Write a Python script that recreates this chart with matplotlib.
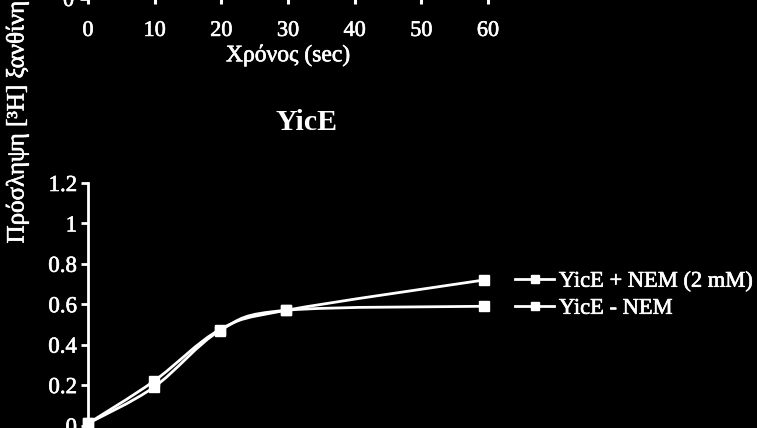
import matplotlib
matplotlib.use('Agg')
import matplotlib.pyplot as plt
import matplotlib.patheffects as pe
from matplotlib.path import Path
from matplotlib.patches import PathPatch

# Data
time_sec = [0, 10, 20, 30, 60]
yice_nem = [0.01, 0.22, 0.475, 0.57, 0.72]
yice_no_nem = [0.01, 0.19, 0.47, 0.57, 0.59]
labels = ['YicE + NEM (2 mM)', 'YicE - NEM']
top_xticks = [0, 10, 20, 30, 40, 50, 60]
yticks = [0, 0.2, 0.4, 0.6, 0.8, 1, 1.2]
ytick_labels = ['0', '0.2', '0.4', '0.6', '0.8', '1', '1.2']

plt.rcParams['font.family'] = ['Liberation Serif', 'DejaVu Serif']
plt.rcParams['text.color'] = 'white'
plt.rcParams['axes.edgecolor'] = 'white'
plt.rcParams['xtick.color'] = 'white'
plt.rcParams['ytick.color'] = 'white'

# the original's white-on-black text is a little heavier than plain regular
heavy = [pe.withStroke(linewidth=0.45, foreground='white')]


def smooth_path(xs, ys, t=0.5):
    # Catmull-Rom style curve through the points, like the spreadsheet smoothing
    verts = [(xs[0], ys[0])]
    codes = [Path.MOVETO]
    n = len(xs)
    for i in range(n - 1):
        x0, y0 = (xs[i - 1], ys[i - 1]) if i > 0 else (xs[i], ys[i])
        x1, y1 = xs[i], ys[i]
        x2, y2 = xs[i + 1], ys[i + 1]
        x3, y3 = (xs[i + 2], ys[i + 2]) if i + 2 < n else (x2, y2)
        c1 = (x1 + (x2 - x0) * t / 3, y1 + (y2 - y0) * t / 3)
        c2 = (x2 - (x3 - x1) * t / 3, y2 - (y3 - y1) * t / 3)
        verts += [c1, c2, (x2, y2)]
        codes += [Path.CURVE4] * 3
    return Path(verts, codes)


fig = plt.figure(figsize=(7.57, 4.28), dpi=100, facecolor='black')

# remains of the chart above: only its x axis labels show
ax_top = fig.add_axes([88 / 757, 429 / 428, 400 / 757, 0.5])
ax_top.set_facecolor('black')
ax_top.set_xlim(0, 60)
ax_top.set_ylim(0, 1)
ax_top.set_xticks(top_xticks)
ax_top.set_yticks([0])
for s in ['top', 'right', 'bottom', 'left']:
    ax_top.spines[s].set_visible(False)
ax_top.tick_params(axis='x', length=3.5, width=2.2, pad=13, labelsize=16)
ax_top.tick_params(axis='y', length=6, width=2, pad=4, labelsize=16)
ax_top.set_xlabel('Χρόνος (sec)', fontsize=17, color='white', labelpad=3)
for t in ax_top.get_xticklabels() + ax_top.get_yticklabels() + [ax_top.xaxis.label]:
    t.set_path_effects(heavy)

# YicE chart
ax = fig.add_axes([88 / 757, 2.5 / 428, 396 / 757, 242.5 / 428])
ax.set_facecolor('black')
ax.set_xlim(0, 60)
ax.set_ylim(0, 1.2)
ax.set_yticks(yticks)
ax.set_yticklabels(ytick_labels)
ax.set_xticks([])
ax.spines['top'].set_visible(False)
ax.spines['right'].set_visible(False)
ax.spines['bottom'].set_visible(False)
ax.spines['left'].set_linewidth(2)
ax.tick_params(axis='y', length=5, width=2, pad=3, labelsize=16.5)
for t in ax.get_yticklabels():
    t.set_path_effects(heavy)

for ys, lab in zip([yice_nem, yice_no_nem], labels):
    ax.add_patch(PathPatch(smooth_path(time_sec, ys), facecolor='none',
                           edgecolor='white', lw=2, clip_on=False))
    ax.plot(time_sec, ys, linestyle='none', marker='s', ms=7,
            color='white', clip_on=False, label=lab)

legend_handles = [plt.Line2D([], [], color='white', lw=2, marker='s', ms=6)
                  for _ in labels]
leg = fig.legend(legend_handles, labels, loc='upper left',
                 bbox_to_anchor=(515 / 757, (428 - 271) / 428), frameon=False,
                 fontsize=16.2, handlelength=1.75, handletextpad=0.2,
                 labelspacing=0.28, borderpad=0, borderaxespad=0,
                 labelcolor='white')
for t in leg.get_texts():
    t.set_path_effects(heavy)

fig.text(307 / 757, (428 - 123) / 428, 'YicE', ha='center', va='center',
         fontsize=21.5, fontweight='bold', color='white')

fig.text(17 / 757, (428 - 122) / 428, 'Πρόσληψη [³H] ξανθίνη', rotation=90,
         ha='center', va='center', fontsize=18, color='white',
         path_effects=heavy)

fig.savefig('out.png', dpi=100, facecolor='black')
